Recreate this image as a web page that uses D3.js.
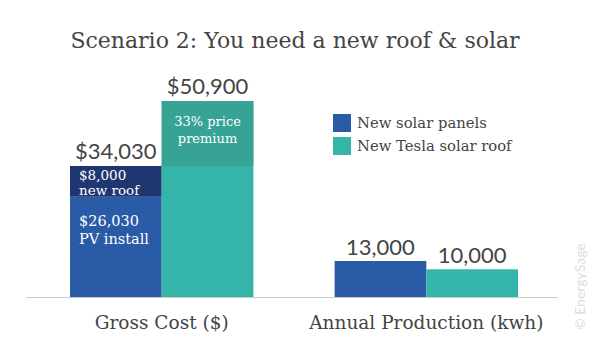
<!DOCTYPE html>
<html>
<head>
<meta charset="utf-8">
<script src="https://cdn.jsdelivr.net/npm/d3@7"></script>
<style>
  body { margin: 0; background: #fff; }
  svg { display: block; }
</style>
</head>
<body>
<div id="chart"></div>
<script>
// data
var title = "Scenario 2: You need a new roof & solar";
var categories = ["Gross Cost ($)", "Annual Production (kwh)"];
var seriesNames = ["New solar panels", "New Tesla solar roof"];
var costPanels = [26030, 8000];          // PV install, new roof
var costPanelLabels = ["$26,030|PV install", "$8,000|new roof"];
var costTesla = 50900;
var premiumLabel = "33% price|premium";
var production = [13000, 10000];
var totalLabels = ["$34,030", "$50,900"];
var productionLabels = ["13,000", "10,000"];

var W = 598, H = 350;
var base = 297;
var serif = "DejaVu Serif";
var sans = "Lato";
var colors = ["#2a5ba7", "#35b5a9"];
var roofColor = "#1f3670";
var premiumColor = "#37a394";
var textColor = "#444";

var svg = d3.select("#chart").append("svg")
    .attr("width", W)
    .attr("height", H);

var x = d3.scaleBand().domain(categories).range([70, 518]).paddingInner(0.307).paddingOuter(0);
var xs = d3.scaleBand().domain(seriesNames).range([0, x.bandwidth()]);

var yCost = d3.scaleLinear().domain([0, costTesla]).range([base, 101]);
var yProd = d3.scaleLinear().domain([0, d3.max(production)]).range([base, 261]);

// title
svg.append("text")
  .attr("x", 295).attr("y", 48)
  .attr("text-anchor", "middle")
  .style("font-family", serif).style("font-size", "22px")
  .attr("fill", textColor)
  .text(title);

// cost: stacked panel bar
var cx0 = x(categories[0]);
var stack = [];
var acc = 0;
costPanels.forEach(function (v, i) {
  stack.push({y0: acc, y1: acc + v, label: costPanelLabels[i]});
  acc += v;
});
var labelOffset = [29, 14];
var g1 = svg.append("g");
g1.selectAll("rect.stk")
  .data(stack)
  .enter().append("rect")
  .attr("class", "stk")
  .attr("x", cx0 + xs(seriesNames[0]))
  .attr("width", xs.bandwidth())
  .attr("y", function (d) { return yCost(d.y1); })
  .attr("height", function (d) { return yCost(d.y0) - yCost(d.y1); })
  .attr("fill", function (d, i) { return i == 0 ? colors[0] : roofColor; });

g1.selectAll("text.stk")
  .data(stack)
  .enter().append("text")
  .attr("class", "stk")
  .attr("x", cx0 + xs(seriesNames[0]) + 9)
  .attr("y", function (d, i) { return yCost(d.y1) + labelOffset[i]; })
  .attr("fill", "#fff")
  .style("font-family", serif).style("font-size", function (d, i) { return i == 0 ? "14.5px" : "13.5px"; })
  .each(function (d, i) {
    var parts = d.label.split("|");
    var t = d3.select(this);
    parts.forEach(function (p, j) {
      t.append("tspan").attr("x", cx0 + xs(seriesNames[0]) + 9).attr("dy", j == 0 ? 0 : (i == 0 ? 18 : 15)).text(p);
    });
  });

// tesla bar with premium band
var tx = cx0 + xs(seriesNames[1]);
g1.append("rect")
  .attr("x", tx).attr("width", xs.bandwidth())
  .attr("y", yCost(costTesla)).attr("height", base - yCost(costTesla))
  .attr("fill", colors[1]);
g1.append("rect")
  .attr("x", tx).attr("width", xs.bandwidth())
  .attr("y", yCost(costTesla)).attr("height", yCost(acc) - yCost(costTesla))
  .attr("fill", premiumColor);
var pt = g1.append("text")
  .attr("text-anchor", "middle")
  .attr("y", yCost(costTesla) + 25)
  .attr("fill", "#fff")
  .style("font-family", serif).style("font-size", "13px");
premiumLabel.split("|").forEach(function (p, j) {
  pt.append("tspan").attr("x", tx + xs.bandwidth() / 2).attr("dy", j == 0 ? 0 : 17).text(p);
});

// totals
var totals = [acc, costTesla];
g1.selectAll("text.tot")
  .data(totals)
  .enter().append("text")
  .attr("class", "tot")
  .attr("text-anchor", "middle")
  .attr("x", function (d, i) { return cx0 + xs(seriesNames[i]) + xs.bandwidth() / 2; })
  .attr("y", function (d) { return yCost(d) - 7; })
  .attr("fill", textColor)
  .style("font-family", sans).style("font-size", "22px")
  .text(function (d, i) { return totalLabels[i]; });

// production bars
var px0 = x(categories[1]);
var g2 = svg.append("g");
g2.selectAll("rect")
  .data(production)
  .enter().append("rect")
  .attr("x", function (d, i) { return px0 + xs(seriesNames[i]); })
  .attr("width", xs.bandwidth())
  .attr("y", function (d) { return yProd(d); })
  .attr("height", function (d) { return base - yProd(d); })
  .attr("fill", function (d, i) { return colors[i]; });
g2.selectAll("text")
  .data(production)
  .enter().append("text")
  .attr("text-anchor", "middle")
  .attr("x", function (d, i) { return px0 + xs(seriesNames[i]) + xs.bandwidth() / 2; })
  .attr("y", function (d) { return yProd(d) - 6; })
  .attr("fill", textColor)
  .style("font-family", sans).style("font-size", "22px")
  .text(function (d, i) { return productionLabels[i]; });

// x axis
var xAxis = svg.append("g")
  .attr("transform", "translate(0," + base + ")")
  .call(d3.axisBottom(x).tickSize(0).tickPadding(19));
xAxis.select(".domain").attr("d", "M26,0.5H558").attr("stroke", "#ccc");
xAxis.selectAll("text")
  .style("font-family", serif).style("font-size", "18.5px")
  .attr("fill", textColor);

// legend
var leg = svg.append("g").attr("transform", "translate(333,114)");
seriesNames.forEach(function (s, i) {
  leg.append("rect").attr("x", 0).attr("y", i * 23).attr("width", 18).attr("height", 18)
    .attr("fill", colors[i]);
  leg.append("text").attr("x", 24).attr("y", i * 23 + 14)
    .attr("fill", textColor)
    .style("font-family", serif).style("font-size", "14.8px")
    .text(s);
});

// watermark
svg.append("text")
  .attr("transform", "translate(585,330) rotate(-90)")
  .attr("fill", "#ddd")
  .style("font-family", sans).style("font-size", "14px")
  .text("\u00a9 EnergySage");
</script>
</body>
</html>
